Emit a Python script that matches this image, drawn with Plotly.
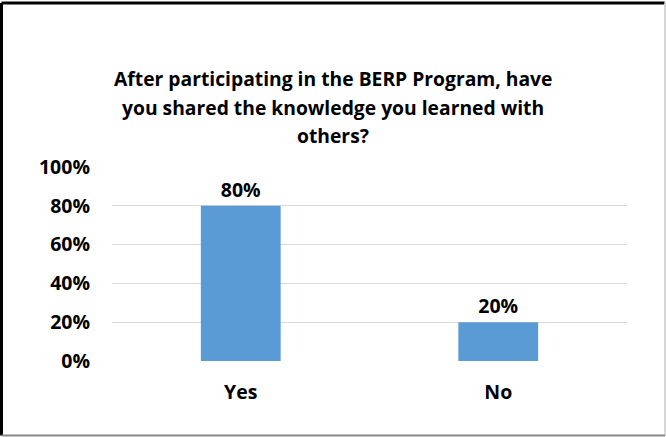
import plotly.graph_objects as go

categories = ["Yes", "No"]
shares = [80, 20]
tick_values = [0, 20, 40, 60, 80, 100]
tick_labels = ["0%", "20%", "40%", "60%", "80%", "100%"]
title_lines = [
    "After participating in the BERP Program, have",
    "you shared the knowledge you learned with",
    "others?",
]

FONT = "Open Sans"
W, H = 666, 437
L, R, T, B = 112, 39, 167, 76
PW, PH = W - L - R, H - T - B


def px_x(px):
    return (px - L) / PW


def px_y(py):
    return (H - B - py) / PH


fig = go.Figure(
    go.Bar(
        x=categories,
        y=shares,
        marker=dict(color="#5b9bd5", line=dict(width=0)),
        text=[f"{v}%" for v in shares],
        texttemplate="<b>%{text}</b>",
        textposition="outside",
        textfont=dict(family=FONT, size=19.5, color="#000000"),
        cliponaxis=False,
        width=0.31,
    )
)

for i, line in enumerate(title_lines):
    fig.add_annotation(
        text=f"<b>{line}</b>",
        xref="paper", yref="paper",
        x=px_x(333), y=px_y(78 + 29 * i),
        xanchor="center", yanchor="middle",
        showarrow=False,
        font=dict(family=FONT, size=19.3, color="#000000"),
    )

# frame around the chart
frame = [
    (1.5, 3, 664.5, 3, "#000000", 3),
    (1.5, 3, 1.5, 435.5, "#000000", 3),
    (665, 3, 665, 436, "#c8c8c8", 1.5),
    (1.5, 435.5, 665, 435.5, "#888888", 2),
]
for x0, y0, x1, y1, c, w in frame:
    fig.add_shape(
        type="line", xref="paper", yref="paper",
        x0=px_x(x0), y0=px_y(y0), x1=px_x(x1), y1=px_y(y1),
        line=dict(color=c, width=w),
    )

fig.update_layout(
    width=W, height=H,
    margin=dict(l=L, r=R, t=T, b=B),
    paper_bgcolor="#ffffff",
    plot_bgcolor="#ffffff",
    showlegend=False,
    font=dict(family=FONT, color="#000000"),
    xaxis=dict(
        tickvals=categories,
        ticktext=[f"<b>{c}</b>" for c in categories],
        showgrid=False, showline=False, zeroline=False,
        tickfont=dict(family=FONT, size=19.5, color="#000000"),
        ticklabelstandoff=17,
    ),
    yaxis=dict(
        range=[0, 100],
        tickvals=tick_values,
        ticktext=[f"<b>{t}</b>" for t in tick_labels],
        tickfont=dict(family=FONT, size=19.5, color="#000000"),
        showgrid=True, gridcolor="#d9d9d9", gridwidth=1,
        zeroline=False, showline=False,
        ticklabelstandoff=21,
    ),
)

fig.write_html("out.html")
